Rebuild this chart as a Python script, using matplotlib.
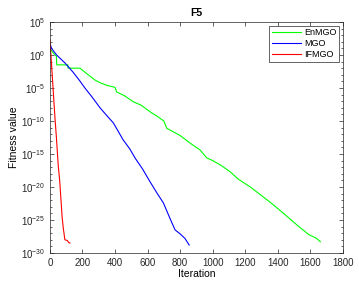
import matplotlib
matplotlib.use("Agg")
import matplotlib.pyplot as plt
import numpy as np

# convergence curves: iteration, log10(fitness)
enmgo_it = [0, 20, 40, 42, 110, 112, 185, 230, 277, 308, 350, 400, 410, 460, 513, 560, 615,
            660, 700, 718, 770, 800, 821, 870, 923, 964, 1000, 1050, 1108, 1157, 1231,
            1300, 1373, 1450, 1520, 1590, 1640, 1662]
enmgo_log = [1.0, 0.3, -0.2, -1.5, -1.5, -2.0, -2.0, -2.9, -3.8, -4.2, -4.6, -4.9, -5.6, -6.2,
             -7.1, -7.6, -8.6, -9.3, -10.0, -11.1, -11.8, -12.2, -12.6, -13.5, -14.4, -15.6,
             -16.0, -16.7, -17.7, -18.8, -20.0, -21.3, -22.7, -24.3, -25.8, -27.2, -27.8, -28.3]

mgo_it = [0, 10, 41, 92, 142, 180, 215, 260, 308, 350, 390, 451, 490, 523, 570, 615, 660,
          697, 735, 769, 800, 830, 856]
mgo_log = [1.8, 1.0, 0.0, -1.2, -2.6, -3.8, -5.0, -6.4, -8.0, -9.2, -10.3, -12.9, -14.2,
           -15.6, -17.3, -19.2, -21.0, -22.4, -24.6, -26.5, -27.1, -27.8, -28.8]

ifmgo_it = [0, 5, 18, 31, 40, 51, 60, 66, 75, 82, 92, 107, 115, 123]
ifmgo_log = [2.3, 0.5, -4.5, -9.5, -12.5, -16.7, -19.0, -21.2, -24.5, -26.2, -28.0, -28.1,
             -28.4, -28.5]

labels = ["EnMGO", "MGO", "IFMGO"]
colors = ["#00ff00", "#0000ff", "#ff0000"]

plt.rcParams['font.family'] = ['Liberation Sans', 'DejaVu Sans']
plt.rcParams['mathtext.fontset'] = 'custom'
plt.rcParams['mathtext.rm'] = 'Liberation Sans'

fig = plt.figure(figsize=(3.59, 2.89), dpi=100)
ax = fig.add_axes([0.139, 0.1246, 0.816, 0.7994])

for it, lg, lab, c in zip([enmgo_it, mgo_it, ifmgo_it],
                          [enmgo_log, mgo_log, ifmgo_log], labels, colors):
    ax.semilogy(it, 10.0 ** np.array(lg), color=c, lw=0.8, label=lab)

ax.set_xlim(0, 1800)
ax.set_ylim(1e-30, 1e5)
ax.set_xticks(np.arange(0, 1801, 200))
major = 10.0 ** np.arange(-30, 6, 5)
ax.set_yticks(major)
ax.set_yticklabels(["$10^{%d}$" % p for p in range(-30, 6, 5)])
ax.set_yticks(10.0 ** np.arange(-30, 6), minor=True)
ax.yaxis.set_minor_formatter(matplotlib.ticker.NullFormatter())

gray = "#262626"
for s in ax.spines.values():
    s.set_color(gray)
    s.set_linewidth(0.5)
ax.tick_params(which='both', direction='in', top=True, right=True, colors=gray,
               labelsize=7, width=0.5)
ax.tick_params(which='major', length=3)
ax.tick_params(which='minor', length=1.5)
ax.tick_params(axis='x', which='minor', bottom=False, top=False)

ax.set_title("F5", fontsize=7.5, fontweight='bold', pad=4)
ax.set_xlabel("Iteration", fontsize=7.5, labelpad=1)
ax.set_ylabel("Fitness value", fontsize=7.5, labelpad=1)

leg = ax.legend(loc='upper right', fontsize=6.5, fancybox=False, framealpha=1,
                edgecolor=gray, borderpad=0.3, labelspacing=0.2, handlelength=3.2,
                handletextpad=0.4, borderaxespad=0.4)
leg.get_frame().set_linewidth(0.5)

fig.savefig("out.png", dpi=100)
